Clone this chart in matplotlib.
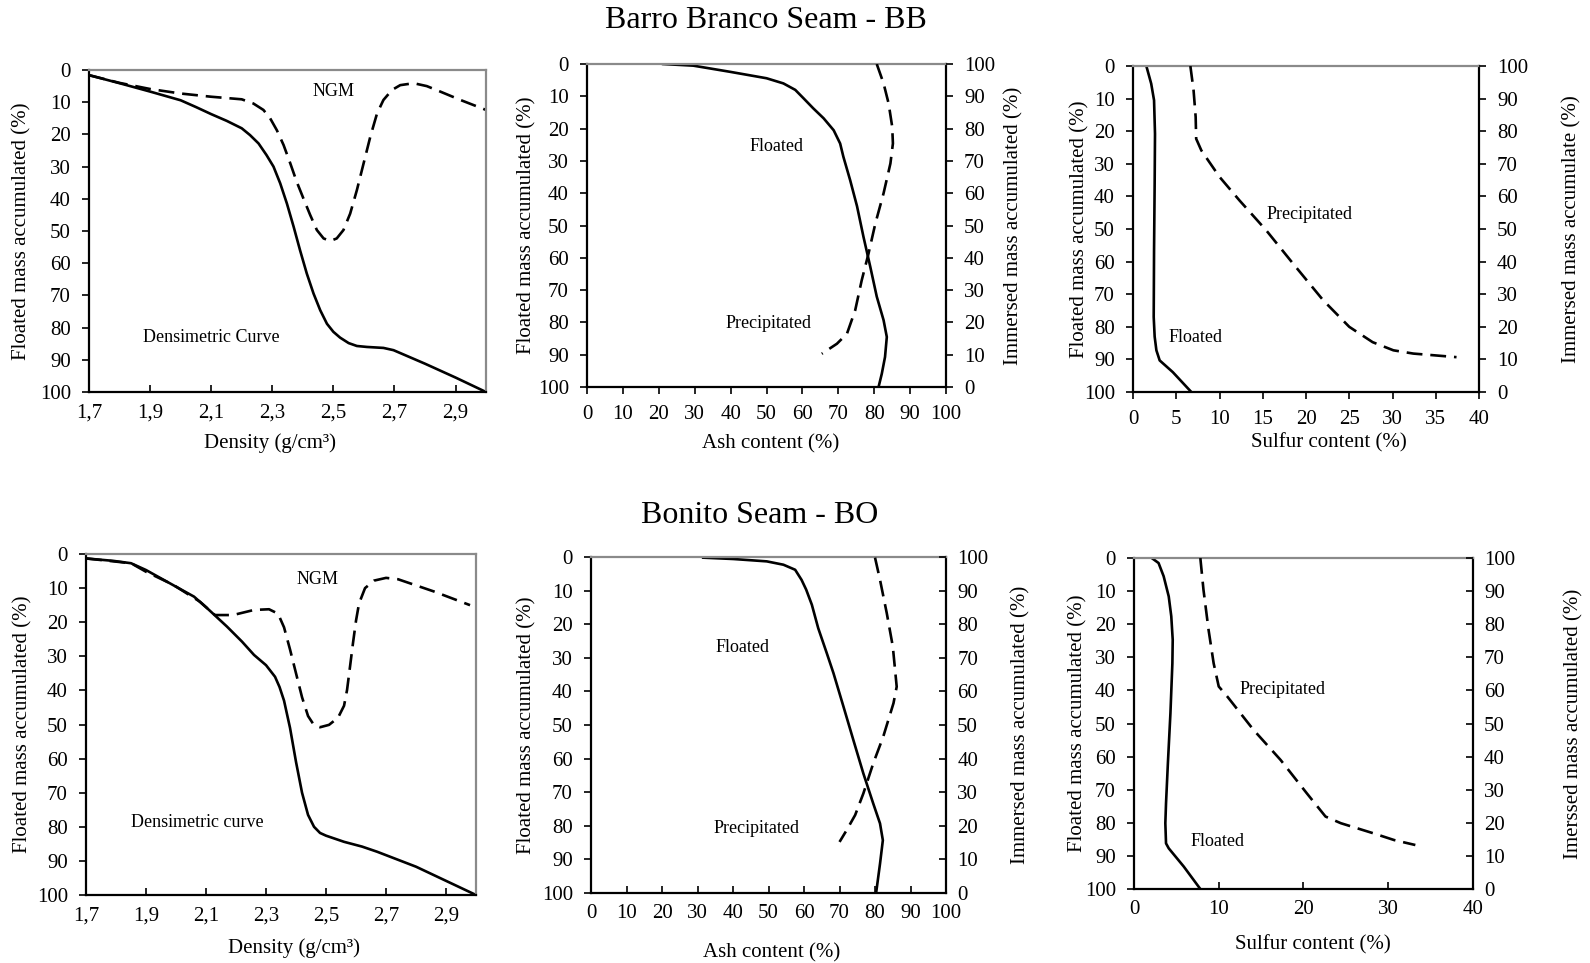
import matplotlib
matplotlib.use("Agg")
import matplotlib.pyplot as plt

plt.rcParams['font.family'] = ['Liberation Serif', 'DejaVu Serif']

# ---------------- Barro Branco Seam (BB) ----------------
bb_dens_x = [1.700, 1.800, 1.900, 2.000, 2.050, 2.100, 2.151, 2.200, 2.227, 2.255, 2.281,
             2.304, 2.326, 2.348, 2.370, 2.391, 2.413, 2.435, 2.457, 2.479, 2.500, 2.522,
             2.550, 2.577, 2.610, 2.664, 2.697, 2.800, 2.900, 3.000]
bb_dens_y = [1.6, 4.1, 6.7, 9.4, 11.5, 13.7, 15.8, 18.1, 20.2, 22.8, 26.4,
             30.0, 35.2, 41.5, 48.7, 56.0, 63.2, 69.4, 74.6, 78.8, 81.3, 83.1,
             84.8, 85.7, 86.0, 86.3, 87.0, 91.2, 95.5, 100.0]
bb_ngm_x = [1.700, 1.800, 1.900, 2.000, 2.100, 2.200, 2.238, 2.271, 2.293, 2.315, 2.337,
            2.359, 2.380, 2.402, 2.424, 2.446, 2.468, 2.490, 2.511, 2.533, 2.555, 2.577,
            2.599, 2.621, 2.643, 2.664, 2.692, 2.719, 2.763, 2.806, 2.850, 2.916, 3.000]
bb_ngm_y = [1.6, 4.0, 5.9, 7.3, 8.3, 9.1, 10.4, 12.4, 15.0, 18.7, 23.3,
            29.0, 34.7, 39.9, 45.0, 49.7, 52.3, 53.1, 52.3, 49.7, 44.6, 37.3,
            29.0, 20.7, 13.5, 9.3, 6.2, 4.7, 4.1, 5.0, 6.7, 9.3, 12.4]

bb_ash_float_x = [21.2, 29.6, 39.8, 50.0, 54.7, 58.0, 60.3, 63.0, 65.9, 68.7, 70.5, 71.4,
                  73.3, 75.2, 77.0, 78.9, 80.7, 82.6, 83.5, 83.0, 82.1, 81.2]
bb_ash_float_y = [0.0, 0.5, 2.4, 4.4, 6.0, 8.0, 10.6, 13.7, 16.8, 20.5, 24.6, 28.7,
                  36.0, 44.0, 53.5, 62.8, 72.0, 79.3, 84.5, 90.7, 95.9, 100.0]
bb_ash_prec_x = [80.7, 82.6, 84.0, 85.0, 85.2, 84.5, 82.6, 80.3, 78.4, 76.5, 74.7, 72.4,
                 69.6, 65.4]
bb_ash_prec_y = [100.0, 94.0, 87.8, 80.6, 75.4, 69.2, 60.0, 50.6, 41.3, 33.0, 23.8, 16.5,
                 13.4, 10.3]

bb_sul_float_x = [1.54, 2.10, 2.43, 2.54, 2.50, 2.43, 2.39, 2.50, 2.70, 3.08, 4.60, 6.74]
bb_sul_float_y = [0.0, 5.4, 10.5, 20.8, 36.0, 56.5, 77.0, 83.0, 87.2, 90.3, 93.9, 100.0]
bb_sul_prec_x = [6.63, 7.00, 7.24, 7.30, 7.90, 10.0, 12.3, 15.4, 18.5, 22.0, 25.0, 27.7,
                 30.1, 32.4, 37.4]
bb_sul_prec_y = [100.0, 92.5, 84.4, 77.7, 74.1, 66.0, 58.8, 49.6, 39.4, 28.1, 20.0, 15.3,
                 12.8, 11.8, 10.7]

# ---------------- Bonito Seam (BO) ----------------
bo_dens_x = [1.70, 1.79, 1.85, 1.90, 1.99, 2.06, 2.11, 2.17, 2.22, 2.26, 2.30, 2.33, 2.345,
             2.36, 2.38, 2.40, 2.42, 2.44, 2.46, 2.48, 2.50, 2.56, 2.62, 2.67, 2.80, 3.00]
bo_dens_y = [1.3, 2.0, 2.7, 4.7, 9.1, 12.5, 16.4, 21.3, 25.7, 29.6, 32.6, 36.0, 39.0,
             43.0, 51.0, 61.0, 70.0, 76.5, 80.0, 81.8, 82.6, 84.4, 85.8, 87.3, 91.7, 100.0]
bo_ngm_x = [1.70, 1.85, 1.90, 1.99, 2.08, 2.13, 2.19, 2.26, 2.31, 2.34, 2.36, 2.38, 2.40,
            2.42, 2.44, 2.46, 2.48, 2.51, 2.54, 2.56, 2.57, 2.58, 2.59, 2.60, 2.61, 2.63,
            2.66, 2.70, 2.74, 2.86, 2.98]
bo_ngm_y = [1.3, 2.7, 5.2, 9.0, 14.0, 17.9, 17.9, 16.4, 16.2, 17.5, 21.5, 28.0, 35.0,
            42.0, 47.5, 50.2, 50.8, 50.1, 48.0, 44.5, 39.9, 33.0, 26.0, 19.5, 14.5, 10.0,
            7.8, 7.0, 7.4, 11.0, 15.0]

bo_ash_float_x = [31.6, 40.1, 49.5, 54.2, 57.5, 59.3, 60.6, 62.2, 63.1, 64.0, 66.4, 68.3,
                  71.1, 73.9, 76.7, 79.5, 81.4, 82.2, 81.4, 80.3]
bo_ash_float_y = [0.2, 0.6, 1.3, 2.3, 3.8, 6.8, 9.7, 14.2, 17.7, 21.2, 28.6, 34.6,
                  44.5, 54.5, 64.4, 73.4, 79.3, 84.3, 91.3, 100.0]
bo_ash_prec_x = [80.0, 81.4, 83.3, 85.0, 86.1, 85.2, 82.3, 79.5, 76.7, 74.4, 72.0, 70.0]
bo_ash_prec_y = [99.8, 93.2, 83.3, 73.4, 61.4, 56.5, 46.5, 38.6, 29.6, 23.2, 18.7, 15.2]

bo_sul_float_x = [2.10, 2.90, 3.50, 4.10, 4.40, 4.57, 4.53, 4.30, 4.00, 3.78, 3.70, 3.78,
                  4.10, 5.87, 7.83]
bo_sul_float_y = [0.0, 1.5, 5.5, 11.6, 17.6, 24.7, 31.8, 46.9, 62.0, 74.1, 80.1, 86.2,
                  87.7, 93.2, 100.0]
bo_sul_prec_x = [7.83, 8.20, 8.80, 9.40, 10.0, 11.0, 14.1, 17.3, 20.4, 22.6, 24.4, 28.3,
                 30.7, 33.2]
bo_sul_prec_y = [100.0, 90.4, 78.3, 68.2, 61.2, 58.2, 48.1, 39.0, 28.9, 21.9, 19.9, 16.8,
                 14.8, 13.3]

dens_ticks = [1.7, 1.9, 2.1, 2.3, 2.5, 2.7, 2.9]
dens_labels = ['1,7', '1,9', '2,1', '2,3', '2,5', '2,7', '2,9']
mass_ticks = list(range(0, 101, 10))

TICK_FS = 15
LABEL_FS = 15
NOTE_FS = 13
LW = 1.9
DASH = (0, (6, 3))
GRAY = '#8a8a8a'

fig = plt.figure(figsize=(15.9, 9.63), dpi=100)


def frame(ax, right_black=False, bottom_dir='out'):
    ax.spines['left'].set_color('black')
    ax.spines['bottom'].set_color('black')
    ax.spines['top'].set_color(GRAY)
    ax.spines['right'].set_color('black' if right_black else GRAY)
    for s in ax.spines.values():
        s.set_linewidth(1.6)
    ax.tick_params(axis='y', which='both', direction='out', length=5, width=1.2,
                   labelsize=TICK_FS, pad=8)
    ax.tick_params(axis='x', which='both', direction=bottom_dir, length=5, width=1.2,
                   labelsize=TICK_FS, pad=8)


def labels(ax, xlabel, xpos, ylabel, ypos):
    ax.set_xlabel(xlabel, fontsize=LABEL_FS)
    ax.xaxis.set_label_coords(*xpos)
    ax.xaxis.label.set_verticalalignment('center')
    ax.set_ylabel(ylabel, fontsize=LABEL_FS)
    ax.yaxis.set_label_coords(ypos, 0.5)
    ax.yaxis.label.set_verticalalignment('center')


def mass_axis(ax):
    ax.set_ylim(100, 0)
    ax.set_yticks(mass_ticks)


def twin(ax, label, lx, right_dir):
    ax2 = ax.twinx()
    ax2.set_ylim(0, 100)
    ax2.set_yticks(mass_ticks)
    ax2.tick_params(axis='y', direction=right_dir, length=5, width=1.2,
                    labelsize=TICK_FS, pad=8)
    for s in ax2.spines.values():
        s.set_visible(False)
    ax2.set_ylabel(label, fontsize=LABEL_FS)
    ax2.yaxis.set_label_coords(lx, 0.5)
    ax2.yaxis.label.set_verticalalignment('center')
    return ax2


# Panel BB density
ax = fig.add_axes([0.0560, 0.5929, 0.2497, 0.3344])
ax.plot(bb_dens_x, bb_dens_y, color='black', lw=LW)
ax.plot(bb_ngm_x, bb_ngm_y, color='black', lw=LW, linestyle=DASH)
ax.set_xlim(1.7, 3.0)
ax.set_xticks(dens_ticks)
ax.set_xticklabels(dens_labels)
mass_axis(ax)
frame(ax, bottom_dir='in')
labels(ax, 'Density (g/cm³)', (0.456, -0.158), 'Floated mass accumulated (%)', -0.168)
ax.text(2.5, 6.7, 'NGM', fontsize=NOTE_FS, ha='center', va='center')
ax.text(2.1, 83, 'Densimetric Curve', fontsize=NOTE_FS, ha='center', va='center')

# Panel BB ash
ax = fig.add_axes([0.3692, 0.5981, 0.2258, 0.3354])
ax.plot(bb_ash_float_x, bb_ash_float_y, color='black', lw=LW)
ax.set_xlim(0, 100)
ax.set_xticks(range(0, 101, 10))
mass_axis(ax)
frame(ax, right_black=True, bottom_dir='out')
labels(ax, 'Ash content (%)', (0.51, -0.176), 'Floated mass accumulated (%)', -0.167)
ax.text(52.8, 25.6, 'Floated', fontsize=NOTE_FS, ha='center', va='center')
ax.text(50.5, 80.4, 'Precipitated', fontsize=NOTE_FS, ha='center', va='center')
ax2 = twin(ax, 'Immersed mass accumulated (%)', 1.189, 'out')
ax2.plot(bb_ash_prec_x, bb_ash_prec_y, color='black', lw=LW, linestyle=DASH)

# Panel BB sulfur
ax = fig.add_axes([0.7126, 0.5929, 0.2176, 0.3385])
ax.plot(bb_sul_float_x, bb_sul_float_y, color='black', lw=LW)
ax.set_xlim(0, 40)
ax.set_xticks(range(0, 41, 5))
mass_axis(ax)
frame(ax, right_black=True, bottom_dir='out')
labels(ax, 'Sulfur content (%)', (0.566, -0.156), 'Floated mass accumulated (%)', -0.153)
ax.text(20.4, 45.5, 'Precipitated', fontsize=NOTE_FS, ha='center', va='center')
ax.text(7.2, 83.3, 'Floated', fontsize=NOTE_FS, ha='center', va='center')
ax2 = twin(ax, 'Immersed mass accumulate (%)', 1.269, 'out')
ax2.plot(bb_sul_prec_x, bb_sul_prec_y, color='black', lw=LW, linestyle=DASH)

# Panel BO density
ax = fig.add_axes([0.0541, 0.0706, 0.2453, 0.3541])
ax.plot(bo_dens_x, bo_dens_y, color='black', lw=LW)
ax.plot(bo_ngm_x, bo_ngm_y, color='black', lw=LW, linestyle=DASH)
ax.set_xlim(1.7, 3.0)
ax.set_xticks(dens_ticks)
ax.set_xticklabels(dens_labels)
mass_axis(ax)
frame(ax, bottom_dir='in')
labels(ax, 'Density (g/cm³)', (0.532, -0.155), 'Floated mass accumulated (%)', -0.163)
ax.text(2.47, 7.4, 'NGM', fontsize=NOTE_FS, ha='center', va='center')
ax.text(2.07, 78.8, 'Densimetric curve', fontsize=NOTE_FS, ha='center', va='center')

# Panel BO ash
ax = fig.add_axes([0.3717, 0.0727, 0.2233, 0.3489])
ax.plot(bo_ash_float_x, bo_ash_float_y, color='black', lw=LW)
ax.set_xlim(0, 100)
ax.set_xticks(range(0, 101, 10))
mass_axis(ax)
frame(ax, right_black=True, bottom_dir='in')
labels(ax, 'Ash content (%)', (0.51, -0.179), 'Floated mass accumulated (%)', -0.180)
ax.text(42.6, 27, 'Floated', fontsize=NOTE_FS, ha='center', va='center')
ax.text(46.5, 80.8, 'Precipitated', fontsize=NOTE_FS, ha='center', va='center')
ax2 = twin(ax, 'Immersed mass accumulated (%)', 1.211, 'in')
ax2.plot(bo_ash_prec_x, bo_ash_prec_y, color='black', lw=LW, linestyle=DASH)

# Panel BO sulfur
ax = fig.add_axes([0.7132, 0.0768, 0.2132, 0.3437])
ax.plot(bo_sul_float_x, bo_sul_float_y, color='black', lw=LW)
ax.set_xlim(0, 40)
ax.set_xticks(range(0, 41, 10))
mass_axis(ax)
frame(ax, right_black=True, bottom_dir='in')
labels(ax, 'Sulfur content (%)', (0.527, -0.169), 'Floated mass accumulated (%)', -0.165)
ax.text(17.5, 39.6, 'Precipitated', fontsize=NOTE_FS, ha='center', va='center')
ax.text(9.8, 85.7, 'Floated', fontsize=NOTE_FS, ha='center', va='center')
ax2 = twin(ax, 'Imerssed mass accumulated (%)', 1.298, 'in')
ax2.plot(bo_sul_prec_x, bo_sul_prec_y, color='black', lw=LW, linestyle=DASH)

fig.text(0.482, 0.979, 'Barro Branco Seam - BB', fontsize=23, ha='center', va='center')
fig.text(0.478, 0.465, 'Bonito Seam - BO', fontsize=23, ha='center', va='center')

fig.savefig('out.png', dpi=100)
